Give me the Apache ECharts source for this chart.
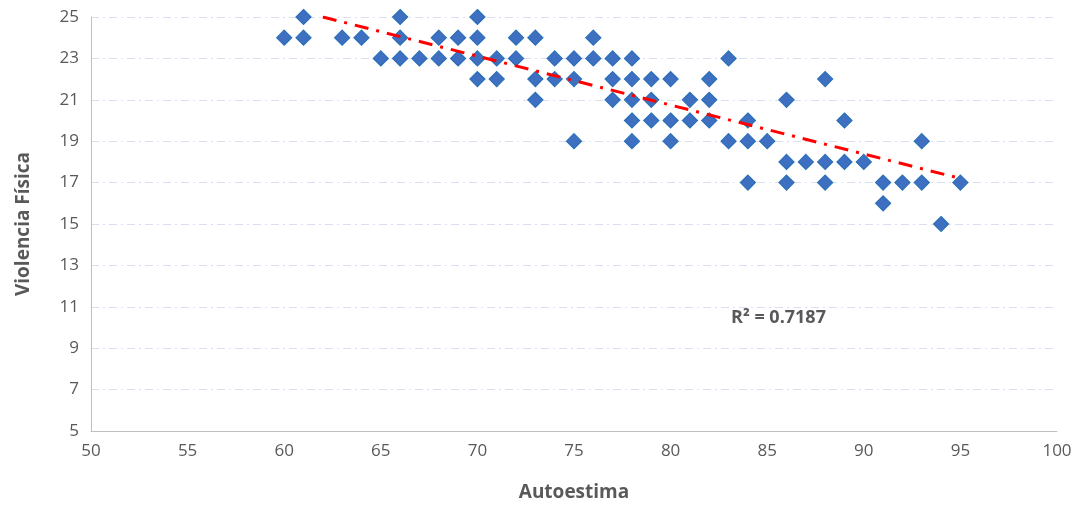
<!DOCTYPE html>
<html lang="en">
<head>
  <meta charset="UTF-8">
  <title>Autoestima vs Violencia Física</title>
  <script src="https://cdnjs.cloudflare.com/ajax/libs/echarts/6.0.0/echarts.min.js"></script>
  <style>
    body { margin: 0; background: #fff; }
    #chart { width: 1087px; height: 513px; }
  </style>
</head>
<body>
  <div id="chart"></div>
  <script>
    // Points: [autoestima, violencia]
    const points = [
      [61, 25], [66, 25], [70, 25],
      [60, 24], [61, 24], [63, 24], [64, 24], [66, 24], [68, 24], [69, 24], [70, 24], [72, 24], [73, 24], [76, 24],
      [65, 23], [66, 23], [67, 23], [68, 23], [69, 23], [70, 23], [71, 23], [72, 23], [74, 23], [75, 23], [76, 23], [77, 23], [78, 23], [83, 23],
      [70, 22], [71, 22], [73, 22], [74, 22], [75, 22], [77, 22], [78, 22], [79, 22], [80, 22], [82, 22], [88, 22],
      [73, 21], [77, 21], [78, 21], [79, 21], [81, 21], [82, 21], [86, 21],
      [78, 20], [79, 20], [80, 20], [81, 20], [82, 20], [84, 20], [89, 20],
      [75, 19], [78, 19], [80, 19], [83, 19], [84, 19], [85, 19], [93, 19],
      [86, 18], [87, 18], [88, 18], [89, 18], [90, 18],
      [84, 17], [86, 17], [88, 17], [91, 17], [92, 17], [93, 17], [95, 17],
      [91, 16], [94, 15]
    ];
    // Trend line endpoints
    const trend = [[62, 25.0], [95, 17.2]];
    const r2Label = 'R² = 0.7187';

    const chart = echarts.init(document.getElementById('chart'));
    const axisText = { color: '#595959', fontSize: 17, fontFamily: 'Open Sans' };
    const nameText = { color: '#595959', fontSize: 19, fontWeight: 'bold', fontFamily: 'Open Sans' };

    chart.setOption({
      animation: false,
      grid: { left: 91, right: 30, top: 17, bottom: 82 },
      xAxis: {
        type: 'value', min: 50, max: 100, interval: 5,
        name: 'Autoestima', nameLocation: 'middle', nameGap: 52, nameTextStyle: nameText,
        axisLine: { lineStyle: { color: '#bfbfbf' } },
        axisTick: { show: false },
        axisLabel: Object.assign({ margin: 12 }, axisText),
        splitLine: { show: false }
      },
      yAxis: {
        type: 'value', min: 5, max: 25, interval: 2,
        name: 'Violencia Física', nameLocation: 'middle', nameGap: 58, nameTextStyle: nameText,
        axisLine: { show: true, lineStyle: { color: '#bfbfbf' } },
        axisTick: { show: false },
        axisLabel: Object.assign({ margin: 12 }, axisText),
        splitLine: { lineStyle: { color: '#d9dff2', type: [8, 4, 2, 4], width: 1 } }
      },
      series: [
        {
          type: 'scatter', data: points, symbol: 'diamond', symbolSize: 15,
          itemStyle: { color: '#3f6fc0', borderColor: '#2a70b8', borderWidth: 1.2, opacity: 1 }
        },
        {
          type: 'line', data: trend, symbol: 'none', silent: true,
          lineStyle: { color: '#ff0000', width: 3, type: [14, 8, 3, 8] },
          z: 3
        }
      ],
      graphic: [{
        type: 'text', left: 731, top: 309,
        style: { text: r2Label, fill: '#595959', font: 'bold 18px "Open Sans"' }
      }]
    });
  </script>
</body>
</html>
